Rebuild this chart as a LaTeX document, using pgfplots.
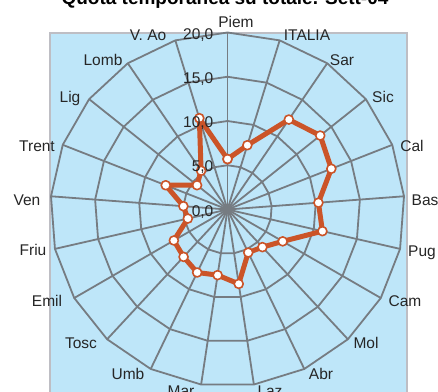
\documentclass[border=0pt]{standalone}
\usepackage{pgfplots}
\pgfplotsset{compat=1.18}
\usepackage{fontspec}
\setmainfont{Liberation Sans}
\definecolor{bgblue}{RGB}{190,230,249}
\definecolor{boxgray}{RGB}{190,190,196}
\definecolor{gridgray}{RGB}{118,124,130}
\definecolor{lineorange}{RGB}{203,84,40}
\newcommand\lab{\fontsize{15.5bp}{18bp}\selectfont}
\pgfplotstableread{
angle value
90 5.7
72.857 7.6
55.714 12.3
38.571 13.4
21.429 12.6
4.286 10.3
-12.857 11.0
-30 7.2
-47.143 5.8
-64.286 5.4
-81.429 8.5
-98.571 7.5
-115.714 7.9
-132.857 7.3
-150 7.0
-167.143 4.6
-184.286 5.0
-201.429 7.5
-218.571 4.4
-235.714 5.3
-252.857 10.8
-270 5.7
}\datatable
\begin{document}
\begin{tikzpicture}[x=1bp,y=1bp]
\path[use as bounding box, clip] (0,0) rectangle (438,391);
\fill[white] (0,0) rectangle (438,391);
\draw[fill=bgblue, draw=boxgray, line width=2bp] (50,-3) rectangle (406.5,358);
\begin{scope}[shift={(227.5,181.5)}]
\foreach \r in {44.25,88.5,132.75,177} {
  \draw[gridgray, line width=1.8bp, line join=miter] (90:\r) \foreach \i in {1,...,20} { -- ({90-\i*360/21}:\r) } -- cycle;
}
\foreach \i in {0,...,20} {
  \draw[gridgray, line width=1.8bp] (0,0) -- ({90-\i*360/21}:177);
}
\end{scope}
\begin{axis}[anchor=origin, at={(227.5bp,181.5bp)}, x=8.85bp, y=8.85bp,
  xmin=-21, xmax=21, ymin=-21, ymax=21, hide axis, clip=false, data cs=polar]
\addplot[color=lineorange, line width=5bp, line join=round,
  mark=*, mark size=4.5bp, mark options={fill=white, draw=lineorange, line width=1.6bp}]
  table[x=angle, y=value] {\datatable};
\end{axis}
% value labels
\node[anchor=base east, inner sep=0pt, text=black!85] at (213.5,352) {\lab 20,0};
\node[anchor=base east, inner sep=0pt, text=black!85] at (213.5,308) {\lab 15,0};
\node[anchor=base east, inner sep=0pt, text=black!85] at (213.5,263.5) {\lab 10,0};
\node[anchor=base east, inner sep=0pt, text=black!85] at (213.5,219.3) {\lab 5,0};
\node[anchor=base east, inner sep=0pt, text=black!85] at (213.5,175) {\lab 0,0};
% category labels
\begin{scope}[every node/.style={anchor=base, inner sep=0pt, text=black!85}]
\node at (236,364) {\lab Piem};
\node at (307,351) {\lab ITALIA};
\node at (342,326) {\lab Sar};
\node at (383,289) {\lab Sic};
\node at (412,240) {\lab Cal};
\node[anchor=base west] at (411.5,186) {\lab Bas};
\node[anchor=base west] at (408,135) {\lab Pug};
\node at (405,85) {\lab Cam};
\node at (366,43) {\lab Mol};
\node at (321,12) {\lab Abr};
\node at (270,-5) {\lab Laz};
\node at (181,-5) {\lab Mar};
\node at (128,12) {\lab Umb};
\node at (81,43) {\lab Tosc};
\node at (47,85) {\lab Emil};
\node at (33,136) {\lab Friu};
\node at (27,186) {\lab Ven};
\node at (37,240) {\lab Trent};
\node at (70,289) {\lab Lig};
\node at (103,326) {\lab Lomb};
\node at (148,351) {\lab V. Ao};
\end{scope}
\node[anchor=base, inner sep=0pt] at (225,387) {\fontsize{19bp}{22bp}\selectfont\bfseries Quota temporanea su totale. Sett-04};
\end{tikzpicture}
\end{document}
